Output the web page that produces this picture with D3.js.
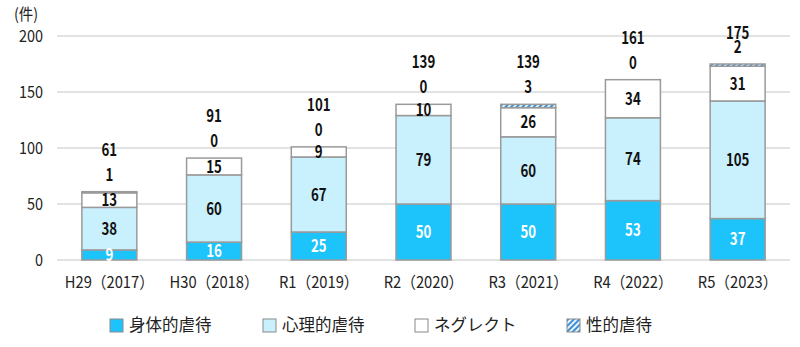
<!DOCTYPE html>
<html>
<head>
<meta charset="utf-8">
<script src="https://cdn.jsdelivr.net/npm/d3@7.9.0/dist/d3.min.js"></script>
<style>
  body { margin: 0; background: #fff; }
  svg { display: block; font-family: "Noto Sans CJK JP", "Noto Sans", sans-serif; }
</style>
</head>
<body>
<svg id="chart" width="800" height="347"></svg>
<script>
// 年度ごとの件数
const years = ["H29（2017）", "H30（2018）", "R1（2019）", "R2（2020）", "R3（2021）", "R4（2022）", "R5（2023）"];
const physical = [9, 16, 25, 50, 50, 53, 37];
const psychological = [38, 60, 67, 79, 60, 74, 105];
const neglect = [13, 15, 9, 10, 26, 34, 31];
const sexual = [1, 0, 0, 0, 3, 0, 2];
const yTicks = [0, 50, 100, 150, 200];

const seriesNames = ["身体的虐待", "心理的虐待", "ネグレクト", "性的虐待"];
const seriesKeys = ["physical", "psychological", "neglect", "sexual"];

const rows = years.map((y, i) => ({
  year: y,
  physical: physical[i],
  psychological: psychological[i],
  neglect: neglect[i],
  sexual: sexual[i],
  total: physical[i] + psychological[i] + neglect[i] + sexual[i]
}));

const svg = d3.select("#chart");
const margin = { top: 36, right: 10, bottom: 87, left: 57 };
const width = 800, height = 347;

const x = d3.scaleBand()
  .domain(years)
  .range([margin.left, 790])
  .paddingInner(0.475)
  .paddingOuter(0.2375);

const y = d3.scaleLinear()
  .domain([0, 200])
  .range([height - margin.bottom, margin.top]);

// hatched fill for 性的虐待
const defs = svg.append("defs");
const pat = defs.append("pattern")
  .attr("id", "hatch")
  .attr("patternUnits", "userSpaceOnUse")
  .attr("width", 4)
  .attr("height", 4)
  .attr("patternTransform", "rotate(45)");
pat.append("rect").attr("width", 4).attr("height", 4).attr("fill", "#fff");
pat.append("rect").attr("width", 2.2).attr("height", 4).attr("fill", "#3d8fd6");

const fills = {
  physical: "#1cc4fb",
  psychological: "#c9f0fd",
  neglect: "#ffffff",
  sexual: "url(#hatch)"
};

// grid lines
svg.append("g")
  .selectAll("line")
  .data(yTicks)
  .join("line")
  .attr("x1", margin.left)
  .attr("x2", 790)
  .attr("y1", d => y(d))
  .attr("y2", d => y(d))
  .attr("stroke", "#d9d9d9")
  .attr("stroke-width", 1.5);

// y tick labels
svg.append("g")
  .selectAll("text")
  .data(yTicks)
  .join("text")
  .attr("transform", d => `translate(43,${y(d)}) scale(0.85,1)`)
  .attr("text-anchor", "end")
  .attr("dy", "0.36em")
  .attr("font-size", 17)
  .attr("fill", "#222")
  .text(d => d);

svg.append("text")
  .attr("transform", "translate(14,20) scale(0.9,1)")
  .attr("font-size", 16)
  .attr("fill", "#222")
  .text("(件)");

// stacked bars
const stack = d3.stack().keys(seriesKeys);
const layers = stack(rows);

const layerG = svg.append("g")
  .selectAll("g")
  .data(layers)
  .join("g")
  .attr("fill", d => fills[d.key]);

layerG.selectAll("rect")
  .data(d => d.map(s => ({ s, key: d.key })))
  .join("rect")
  .filter(d => d.s[1] - d.s[0] > 0)
  .attr("x", d => x(d.s.data.year))
  .attr("width", x.bandwidth())
  .attr("y", d => y(d.s[1]))
  .attr("height", d => y(d.s[0]) - y(d.s[1]))
  .attr("stroke", "#9a9a9a")
  .attr("stroke-width", 1.5);

// values inside segments
const inside = [];
layers.slice(0, 3).forEach(layer => {
  layer.forEach(s => {
    inside.push({
      key: layer.key,
      year: s.data.year,
      mid: (s[0] + s[1]) / 2,
      value: s[1] - s[0]
    });
  });
});

svg.append("g")
  .selectAll("text")
  .data(inside)
  .join("text")
  .attr("transform", d => `translate(${x(d.year) + x.bandwidth() / 2},${y(d.mid)}) scale(0.78,1)`)
  .attr("text-anchor", "middle")
  .attr("dy", "0.36em")
  .attr("font-size", 17)
  .attr("font-weight", 700)
  .attr("fill", d => d.key === "physical" ? "#fff" : "#111")
  .text(d => d.value);

// 性的虐待 value and total above each bar
const above = svg.append("g");
above.selectAll("text.sex")
  .data(rows)
  .join("text")
  .attr("class", "sex")
  .attr("transform", d => `translate(${x(d.year) + x.bandwidth() / 2},${y(d.total) - 17}) scale(0.78,1)`)
  .attr("text-anchor", "middle")
  .attr("dy", "0.36em")
  .attr("font-size", 17)
  .attr("font-weight", 700)
  .attr("fill", "#111")
  .text(d => d.sexual);

above.selectAll("text.total")
  .data(rows)
  .join("text")
  .attr("class", "total")
  .attr("transform", d => `translate(${x(d.year) + x.bandwidth() / 2},${Math.max(y(d.total) - 42, 33)}) scale(0.78,1)`)
  .attr("text-anchor", "middle")
  .attr("dy", "0.36em")
  .attr("font-size", 17)
  .attr("font-weight", 700)
  .attr("fill", "#111")
  .text(d => d.total);

// x labels
svg.append("g")
  .selectAll("text")
  .data(years)
  .join("text")
  .attr("transform", d => `translate(${x(d) + x.bandwidth() / 2},${y(0) + 22}) scale(0.92,1)`)
  .attr("text-anchor", "middle")
  .attr("dy", "0.36em")
  .attr("font-size", 16)
  .attr("fill", "#222")
  .text(d => d);

// legend
const legendX = [110, 263, 415, 567];
const legend = svg.append("g")
  .selectAll("g")
  .data(seriesKeys)
  .join("g")
  .attr("transform", (d, i) => `translate(${legendX[i]},319)`);

legend.append("rect")
  .attr("width", 13)
  .attr("height", 13)
  .attr("fill", d => fills[d])
  .attr("stroke", "#8a8a8a")
  .attr("stroke-width", 1);

legend.append("text")
  .attr("x", 19)
  .attr("y", 6.5)
  .attr("dy", "0.36em")
  .attr("font-size", 16.5)
  .attr("fill", "#222")
  .text((d, i) => seriesNames[i]);
</script>
</body>
</html>
